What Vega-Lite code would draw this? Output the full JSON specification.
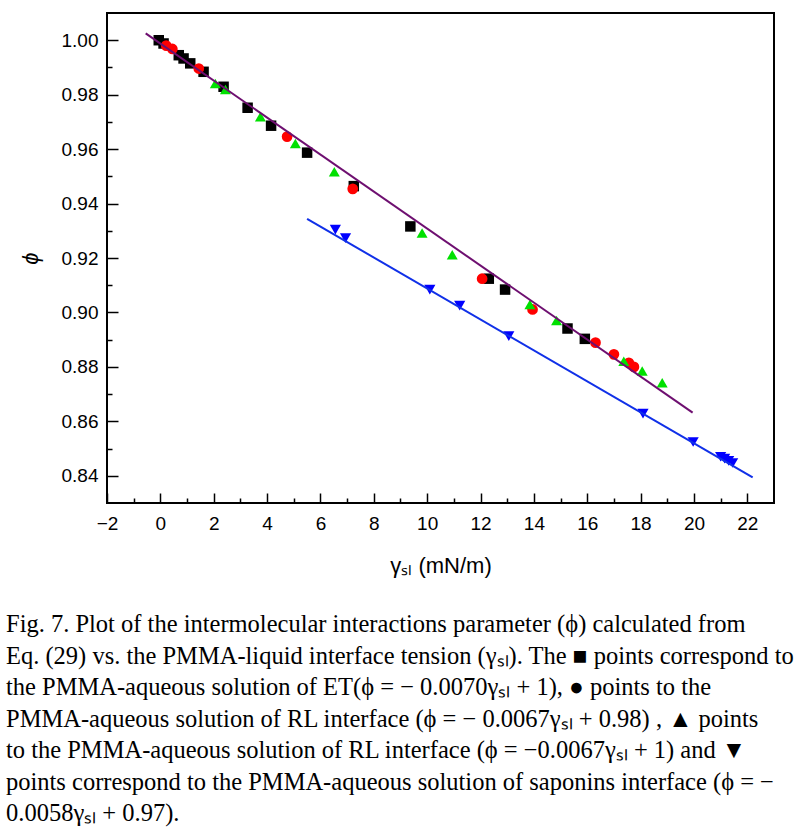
{
  "$schema": "https://vega.github.io/schema/vega-lite/v6.json",
  "width": 667,
  "height": 490,
  "autosize": {"type": "none"},
  "padding": {"left": 107, "top": 13, "right": 32, "bottom": 332},
  "background": "white",
  "title": {
    "text": [
      "Fig. 7. Plot of the intermolecular interactions parameter (ϕ) calculated from",
      "Eq. (29) vs. the PMMA-liquid interface tension (γₛₗ). The ■ points correspond to",
      "the PMMA-aqueous solution of ET(ϕ = − 0.0070γₛₗ + 1), ● points to the",
      "PMMA-aqueous solution of RL interface (ϕ = − 0.0067γₛₗ + 0.98) , ▲ points",
      "to the PMMA-aqueous solution of RL interface (ϕ = −0.0067γₛₗ + 1) and ▼",
      "points correspond to the PMMA-aqueous solution of saponins interface (ϕ = −",
      " 0.0058γₛₗ + 0.97)."
    ],
    "orient": "bottom",
    "anchor": "start",
    "frame": "group",
    "dx": -101,
    "offset": 37,
    "font": "Liberation Serif",
    "fontSize": 24.5,
    "fontWeight": "normal",
    "lineHeight": 31.5,
    "color": "black"
  },
  "datasets": {
    "points": [
      {"gamma": -0.06, "phi": 1.0, "series": "ET"},
      {"gamma": 0.12, "phi": 0.9988, "series": "ET"},
      {"gamma": 0.69, "phi": 0.9945, "series": "ET"},
      {"gamma": 0.87, "phi": 0.9933, "series": "ET"},
      {"gamma": 1.12, "phi": 0.9915, "series": "ET"},
      {"gamma": 1.62, "phi": 0.9884, "series": "ET"},
      {"gamma": 2.37, "phi": 0.9829, "series": "ET"},
      {"gamma": 3.27, "phi": 0.9752, "series": "ET"},
      {"gamma": 4.15, "phi": 0.9686, "series": "ET"},
      {"gamma": 5.5, "phi": 0.9587, "series": "ET"},
      {"gamma": 7.25, "phi": 0.9464, "series": "ET"},
      {"gamma": 9.37, "phi": 0.9316, "series": "ET"},
      {"gamma": 12.31, "phi": 0.9124, "series": "ET"},
      {"gamma": 12.92, "phi": 0.9084, "series": "ET"},
      {"gamma": 15.26, "phi": 0.8941, "series": "ET"},
      {"gamma": 15.91, "phi": 0.8903, "series": "ET"},
      {"gamma": 0.22, "phi": 0.998, "series": "RL 0.98"},
      {"gamma": 0.45, "phi": 0.9968, "series": "RL 0.98"},
      {"gamma": 1.44, "phi": 0.9896, "series": "RL 0.98"},
      {"gamma": 4.75, "phi": 0.9646, "series": "RL 0.98"},
      {"gamma": 7.21, "phi": 0.9454, "series": "RL 0.98"},
      {"gamma": 12.06, "phi": 0.9124, "series": "RL 0.98"},
      {"gamma": 13.95, "phi": 0.9011, "series": "RL 0.98"},
      {"gamma": 16.31, "phi": 0.8889, "series": "RL 0.98"},
      {"gamma": 17.0, "phi": 0.8846, "series": "RL 0.98"},
      {"gamma": 17.56, "phi": 0.8815, "series": "RL 0.98"},
      {"gamma": 17.75, "phi": 0.88, "series": "RL 0.98"},
      {"gamma": 2.06, "phi": 0.9841, "series": "RL 1"},
      {"gamma": 2.44, "phi": 0.9819, "series": "RL 1"},
      {"gamma": 3.75, "phi": 0.9719, "series": "RL 1"},
      {"gamma": 5.06, "phi": 0.9621, "series": "RL 1"},
      {"gamma": 6.52, "phi": 0.9517, "series": "RL 1"},
      {"gamma": 9.81, "phi": 0.9292, "series": "RL 1"},
      {"gamma": 10.94, "phi": 0.9212, "series": "RL 1"},
      {"gamma": 13.85, "phi": 0.9029, "series": "RL 1"},
      {"gamma": 14.85, "phi": 0.897, "series": "RL 1"},
      {"gamma": 17.37, "phi": 0.8821, "series": "RL 1"},
      {"gamma": 18.06, "phi": 0.8785, "series": "RL 1"},
      {"gamma": 18.81, "phi": 0.8742, "series": "RL 1"},
      {"gamma": 6.56, "phi": 0.9304, "series": "Saponins"},
      {"gamma": 6.94, "phi": 0.9273, "series": "Saponins"},
      {"gamma": 10.1, "phi": 0.9084, "series": "Saponins"},
      {"gamma": 11.22, "phi": 0.9025, "series": "Saponins"},
      {"gamma": 13.06, "phi": 0.8913, "series": "Saponins"},
      {"gamma": 18.09, "phi": 0.8628, "series": "Saponins"},
      {"gamma": 19.97, "phi": 0.8524, "series": "Saponins"},
      {"gamma": 21.0, "phi": 0.847, "series": "Saponins"},
      {"gamma": 21.15, "phi": 0.8463, "series": "Saponins"},
      {"gamma": 21.3, "phi": 0.8455, "series": "Saponins"},
      {"gamma": 21.45, "phi": 0.8447, "series": "Saponins"}
    ],
    "fits": [
      {"gamma": -0.55, "phi": 1.0025, "fit": "ET"},
      {"gamma": 19.95, "phi": 0.8632, "fit": "ET"},
      {"gamma": 5.5, "phi": 0.9344, "fit": "Saponins"},
      {"gamma": 22.2, "phi": 0.8394, "fit": "Saponins"}
    ]
  },
  "encoding": {
    "x": {
      "field": "gamma",
      "type": "quantitative",
      "scale": {"domain": [-2, 23], "nice": false, "zero": false},
      "axis": {
        "title": "γₛₗ (mN/m)",
        "values": [-2, -1, 0, 1, 2, 3, 4, 5, 6, 7, 8, 9, 10, 11, 12, 13, 14, 15, 16, 17, 18, 19, 20, 21, 22],
        "labelExpr": "datum.value % 2 === 0 ? datum.label : ''",
        "tickDash": {"condition": {"test": "datum.value % 2 !== 0", "value": [0, 5, 5, 100]}, "value": [30, 0]},
        "offset": -10,
        "tickSize": 10,
        "labelPadding": 11,
        "titlePadding": 22
      }
    },
    "y": {
      "field": "phi",
      "type": "quantitative",
      "scale": {"domain": [0.83, 1.01], "nice": false, "zero": false},
      "axis": {
        "title": "ϕ",
        "titleFontStyle": "italic",
        "titleFontSize": 22,
        "values": [0.84, 0.85, 0.86, 0.87, 0.88, 0.89, 0.9, 0.91, 0.92, 0.93, 0.94, 0.95, 0.96, 0.97, 0.98, 0.99, 1.0],
        "labelExpr": "round(datum.value * 100) % 2 === 0 ? format(datum.value, '.2f') : ''",
        "tickDash": {"condition": {"test": "round(datum.value * 100) % 2 !== 0", "value": [0, 6, 5, 100]}, "value": [30, 0]},
        "offset": -11,
        "tickSize": 11,
        "labelPadding": 9,
        "titlePadding": 19
      }
    }
  },
  "layer": [
    {
      "data": {"name": "points"},
      "mark": {"type": "point", "filled": true, "opacity": 1, "strokeWidth": 0},
      "encoding": {
        "shape": {
          "field": "series",
          "type": "nominal",
          "scale": {"domain": ["ET", "RL 0.98", "RL 1", "Saponins"], "range": ["square", "circle", "triangle-up", "triangle-down"]},
          "legend": null
        },
        "color": {
          "field": "series",
          "type": "nominal",
          "scale": {"domain": ["ET", "RL 0.98", "RL 1", "Saponins"], "range": ["#000000", "#ff0000", "#00e000", "#0000ff"]},
          "legend": null
        },
        "size": {
          "field": "series",
          "type": "nominal",
          "scale": {"domain": ["ET", "RL 0.98", "RL 1", "Saponins"], "range": [110, 125, 185, 185]},
          "legend": null
        }
      }
    },
    {
      "data": {"name": "fits"},
      "mark": {"type": "line", "strokeWidth": 2},
      "encoding": {
        "detail": {"field": "fit", "type": "nominal"},
        "color": {
          "field": "fit",
          "type": "nominal",
          "scale": {"domain": ["ET", "Saponins"], "range": ["#6e0f70", "#1030e8"]},
          "legend": null
        }
      }
    }
  ],
  "resolve": {"scale": {"color": "independent"}},
  "config": {
    "view": {"stroke": "black", "strokeWidth": 2},
    "axis": {
      "grid": false,
      "domain": false,
      "ticks": true,
      "tickColor": "black",
      "tickWidth": 1.5,
      "tickOpacity": 1,
      "labelFont": "Liberation Sans",
      "labelFontSize": 19,
      "labelColor": "black",
      "labelFlush": false,
      "labelOverlap": false,
      "labelBound": false,
      "titleFont": "Liberation Sans",
      "titleFontSize": 22,
      "titleFontWeight": "normal",
      "titleColor": "black"
    }
  }
}
